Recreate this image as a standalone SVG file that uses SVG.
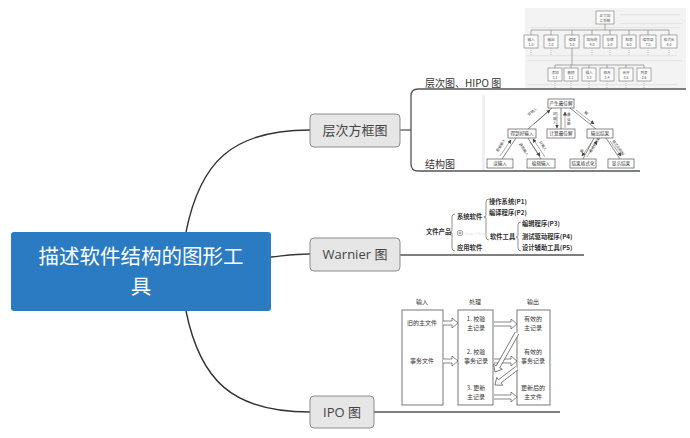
<svg xmlns="http://www.w3.org/2000/svg" width="690" height="438" viewBox="0 0 690 438">
<defs>
<style>
.cn{fill:none;stroke:#333;stroke-width:1.4}
.br{fill:none;stroke:#555;stroke-width:1.3}
.node rect{fill:#e6e6e6;stroke:#8c8c8c;stroke-width:1}
.nt{font-family:"Open Sans","Noto Sans CJK SC",sans-serif;font-size:13px;fill:#444;text-anchor:middle}
.lb{font-family:"Noto Sans CJK SC",sans-serif;font-size:10px;fill:#333}
.hb{fill:#fbfbfb;stroke:#777;stroke-width:0.6}
.ht{font-family:"Noto Sans CJK SC",sans-serif;font-size:3.6px;fill:#555;text-anchor:middle}
.hl{fill:none;stroke:#777;stroke-width:0.6}
.hd{fill:none;stroke:#999;stroke-width:0.6;stroke-dasharray:1 1}
.sb{fill:#fff;stroke:#555;stroke-width:0.7}
.st{font-family:"Noto Sans CJK SC",sans-serif;font-size:4.6px;fill:#333;text-anchor:middle}
.sl{fill:none;stroke:#555;stroke-width:0.7}
.sa{fill:none;stroke:#555;stroke-width:0.5;marker-end:url(#ah)}
.sx{font-family:"Noto Sans CJK SC",sans-serif;font-size:3.6px;fill:#444}
.wt{font-family:"Noto Sans CJK SC",sans-serif;font-size:6.3px;fill:#333;font-weight:bold}
.wb{fill:none;stroke:#444;stroke-width:0.6}
.it{font-family:"Noto Sans CJK SC",sans-serif;font-size:6px;fill:#333;text-anchor:middle}
.ib{fill:#fff;stroke:#555;stroke-width:0.8}
.ia{fill:#fff;stroke:#555;stroke-width:0.7}
.rt{font-family:"Noto Sans CJK SC",sans-serif;font-size:20.5px;fill:#fff;text-anchor:middle}
</style>
<marker id="ah" markerWidth="4" markerHeight="4" refX="3.5" refY="2" orient="auto" markerUnits="userSpaceOnUse"><path d="M0,0 L4,2 L0,4 z" fill="#444"/></marker>
</defs>
<rect width="690" height="438" fill="#fff"/>

<g id="connectors">
<path class="cn" d="M186,232 C200,162 232,130 310,130"/>
<path class="cn" d="M271,257 C290,255 295,254 310,254"/>
<path class="cn" d="M186,311 C200,380 232,412 310,412"/>
<path class="br" d="M400,130 L411,130"/>
<path class="br" d="M686,89 L418,89 Q411,89 411,96 L411,164 Q411,171 418,171 L640,171"/>
<path class="br" d="M400,255 L584,255"/>
<path class="br" d="M374,412 L560,412"/>
</g>

<g id="root">
<rect x="11" y="232" width="260" height="79" rx="3" fill="#2b7bc2"/>
<text class="rt" x="141" y="263.5">描述软件结构的图形工</text>
<text class="rt" x="141" y="293.5">具</text>
</g>

<g id="node-hierarchy" class="node">
<rect x="310" y="114" width="90" height="33" rx="4"/>
<text class="nt" x="355" y="135">层次方框图</text>
</g>
<g id="node-warnier" class="node">
<rect x="310" y="238" width="90" height="33" rx="4"/>
<text class="nt" x="355" y="259">Warnier 图</text>
</g>
<g id="node-ipo" class="node">
<rect x="310" y="396" width="64" height="32" rx="4"/>
<text class="nt" x="342" y="417">IPO 图</text>
</g>

<g id="label-hipo">
<text class="lb" x="425" y="87">层次图、HIPO 图</text>
</g>
<g id="label-structure">
<text class="lb" x="425" y="168">结构图</text>
</g>

<g id="hipo-picture">
<rect x="525" y="8" width="161" height="80" fill="#f3f3f3"/>
<g fill="#e6e6e6">
<rect x="620" y="14" width="60" height="1.5"/><rect x="530" y="27" width="150" height="1.2"/>
<rect x="620" y="23" width="62" height="1.2"/><rect x="527" y="55" width="150" height="1.2"/>
<rect x="527" y="60" width="155" height="1.2"/><rect x="527" y="84" width="150" height="1.2"/>
</g>
<rect class="hb" x="596" y="11" width="18" height="13"/>
<text class="ht" x="605" y="16.5">正文加</text><text class="ht" x="605" y="21.5">工系统</text>
<path class="hl" d="M605,24 V30 M531,30 H669 M531,30 V35 M551,30 V35 M572,30 V35 M592,30 V35 M610,30 V35 M629,30 V35 M648,30 V35 M669,30 V35"/>
<rect class="hb" x="524" y="35" width="14" height="13"/><text class="ht" x="531" y="40.5">输入</text><text class="ht" x="531" y="45.5">1.0</text>
<rect class="hb" x="544" y="35" width="14" height="13"/><text class="ht" x="551" y="40.5">输出</text><text class="ht" x="551" y="45.5">2.0</text>
<rect class="hb" x="565" y="35" width="14" height="13"/><text class="ht" x="572" y="40.5">编辑</text><text class="ht" x="572" y="45.5">3.0</text>
<rect class="hb" x="584" y="35" width="16" height="13"/><text class="ht" x="592" y="40.5">加标题</text><text class="ht" x="592" y="45.5">4.0</text>
<rect class="hb" x="603" y="35" width="14" height="13"/><text class="ht" x="610" y="40.5">存储</text><text class="ht" x="610" y="45.5">5.0</text>
<rect class="hb" x="622" y="35" width="14" height="13"/><text class="ht" x="629" y="40.5">检索</text><text class="ht" x="629" y="45.5">6.0</text>
<rect class="hb" x="640" y="35" width="16" height="13"/><text class="ht" x="648" y="40.5">编目录</text><text class="ht" x="648" y="45.5">7.0</text>
<rect class="hb" x="661" y="35" width="16" height="13"/><text class="ht" x="669" y="40.5">格式化</text><text class="ht" x="669" y="45.5">8.0</text>
<path class="hd" d="M531,48 V56 M551,48 V56 M592,48 V56 M610,48 V56 M629,48 V56 M648,48 V56 M669,48 V56"/>
<path class="hl" d="M572,48 V65 M555,65 H644 M555,65 V68 M571,65 V68 M589,65 V68 M607,65 V68 M626,65 V68 M644,65 V68"/>
<rect class="hb" x="548" y="68" width="14" height="13"/><text class="ht" x="555" y="73.5">添加</text><text class="ht" x="555" y="78.5">3.1</text>
<rect class="hb" x="564" y="68" width="14" height="13"/><text class="ht" x="571" y="73.5">删除</text><text class="ht" x="571" y="78.5">3.2</text>
<rect class="hb" x="582" y="68" width="14" height="13"/><text class="ht" x="589" y="73.5">插入</text><text class="ht" x="589" y="78.5">3.3</text>
<rect class="hb" x="600" y="68" width="14" height="13"/><text class="ht" x="607" y="73.5">修改</text><text class="ht" x="607" y="78.5">3.4</text>
<rect class="hb" x="619" y="68" width="14" height="13"/><text class="ht" x="626" y="73.5">合并</text><text class="ht" x="626" y="78.5">3.5</text>
<rect class="hb" x="637" y="68" width="14" height="13"/><text class="ht" x="644" y="73.5">列表</text><text class="ht" x="644" y="78.5">3.6</text>
<path class="hd" d="M555,81 V88 M571,81 V88 M589,81 V88 M607,81 V88 M626,81 V88 M644,81 V88"/>
</g>

<g id="structure-picture">
<rect x="482" y="95" width="3" height="75" fill="#f0f0f0"/>
<path class="sl" d="M552,108 L528,129 M561,108 V129 M570,108 L596,129 M516,138 L502,159 M528,138 L541,159 M594,138 L583,159 M606,138 L620,159"/>
<path class="sa" d="M534,124 L550,110"/>
<path class="sa" d="M557,112 V128"/>
<path class="sa" d="M565,128 V112"/>
<path class="sa" d="M576,110 L594,124"/>
<path class="sa" d="M500,156 L511,140"/>
<path class="sa" d="M530,142 L540,156"/>
<path class="sa" d="M545,157 L533,139"/>
<path class="sa" d="M591,143 L582,156"/>
<path class="sa" d="M587,157 L597,141"/>
<path class="sa" d="M610,141 L621,156"/>
<text class="sx" x="529" y="116" transform="rotate(-40 529 116)">好输入</text>
<text class="sx" x="553" y="115">好</text><text class="sx" x="553" y="119.5">输</text><text class="sx" x="553" y="124">入</text>
<text class="sx" x="567" y="116">最</text><text class="sx" x="567" y="120.5">佳</text><text class="sx" x="567" y="125">解</text>
<text class="sx" x="584" y="113" transform="rotate(38 584 113)">解</text>
<text class="sx" x="498" y="152" transform="rotate(-58 498 152)">原始输入</text>
<text class="sx" x="519" y="144" transform="rotate(58 519 144)">原始输入</text>
<text class="sx" x="539" y="142" transform="rotate(58 539 142)">好输入</text>
<text class="sx" x="582" y="153" transform="rotate(-58 582 153)">解</text>
<text class="sx" x="591" y="153" transform="rotate(-58 591 153)">格式化的解</text>
<text class="sx" x="612" y="141" transform="rotate(55 612 141)">格式化的解</text>
<rect class="sb" x="548" y="99" width="26" height="9"/><text class="st" x="561" y="105.3">产生最佳解</text>
<rect class="sb" x="508" y="129" width="28" height="9"/><text class="st" x="522" y="135.3">得到好输入</text>
<rect class="sb" x="547" y="129" width="28" height="9"/><text class="st" x="561" y="135.3">计算最佳解</text>
<rect class="sb" x="587" y="129" width="26" height="9"/><text class="st" x="600" y="135.3">输出结果</text>
<rect class="sb" x="487" y="159" width="26" height="9"/><text class="st" x="500" y="165.3">读输入</text>
<rect class="sb" x="527" y="159" width="28" height="9"/><text class="st" x="541" y="165.3">编辑输入</text>
<rect class="sb" x="570" y="159" width="26" height="9"/><text class="st" x="583" y="165.3">结果格式化</text>
<rect class="sb" x="608" y="159" width="26" height="9"/><text class="st" x="621" y="165.3">显示结果</text>
</g>

<g id="warnier-picture">
<text class="wt" x="426" y="234">文件产品</text>
<path class="wb" d="M455,214 Q452,214 452,217 L452,230 Q452,232 450,232 Q452,232 452,234 L452,248 Q452,251 455,251"/>
<text class="wt" x="457" y="219">系统软件</text>
<path class="wb" d="M489,199 Q486,199 486,202 L486,215 Q486,217 484,217 Q486,217 486,219 L486,237 Q486,240 489,240"/>
<circle cx="460" cy="233" r="2.8" fill="none" stroke="#444" stroke-width="0.5"/>
<path d="M458.5,233 H461.5 M460,231.5 V234.5" stroke="#444" stroke-width="0.5"/>
<text x="465" y="235" font-family="Liberation Mono,monospace" font-size="3.3" fill="#e0e0e0">http://blog.</text>
<text class="wt" x="457" y="250">应用软件</text>
<text class="wt" x="489" y="204">操作系统(P1)</text>
<text class="wt" x="489" y="215">编译程序(P2)</text>
<text class="wt" x="490" y="239">软件工具</text>
<path class="wb" d="M521,222 Q518,222 518,225 L518,235 Q518,237 516,237 Q518,237 518,239 L518,248 Q518,251 521,251"/>
<text class="wt" x="522" y="226">编辑程序(P3)</text>
<text class="wt" x="522" y="239">测试驱动程序(P4)</text>
<text class="wt" x="522" y="250">设计辅助工具(P5)</text>
</g>

<g id="ipo-picture">
<text class="it" x="422" y="304">输入</text>
<text class="it" x="475" y="304">处理</text>
<text class="it" x="533" y="304">输出</text>
<rect class="ib" x="402" y="310" width="41" height="95"/>
<rect class="ib" x="458" y="310" width="35" height="95"/>
<rect class="ib" x="517" y="310" width="33" height="95"/>
<text class="it" x="422" y="325">旧的主文件</text>
<text class="it" x="422" y="363">事务文件</text>
<text class="it" x="476" y="321">1. 校验</text><text class="it" x="476" y="330">主记录</text>
<text class="it" x="476" y="354">2. 校验</text><text class="it" x="476" y="363">事务记录</text>
<text class="it" x="476" y="390">3. 更新</text><text class="it" x="476" y="399">主记录</text>
<text class="it" x="533" y="321">有效的</text><text class="it" x="533" y="330">主记录</text>
<text class="it" x="533" y="354">有效的</text><text class="it" x="533" y="363">事务记录</text>
<text class="it" x="533" y="390">更新后的</text><text class="it" x="533" y="399">主文件</text>
<path class="ia" d="M443,321 H452 V318 L458,323 L452,328 V325 H443"/>
<path class="ia" d="M443,359 H452 V356 L458,361 L452,366 V363 H443"/>
<path class="ia" d="M494,322 H511 V319 L517,324 L511,329 V326 H494"/>
<path class="ia" d="M494,359 H511 V356 L517,361 L511,366 V363 H494"/>
<path class="ia" d="M494,395 H511 V392 L517,397 L511,402 V399 H494"/>
<g transform="translate(517,333) rotate(119.4)"><path class="ia" d="M0,-2 H38.8 V-5 L44.8,0 L38.8,5 V2 H0"/></g>
<g transform="translate(517,368) rotate(142.3)"><path class="ia" d="M0,-2 H21.8 V-5 L27.8,0 L21.8,5 V2 H0"/></g>
</g>
</svg>
